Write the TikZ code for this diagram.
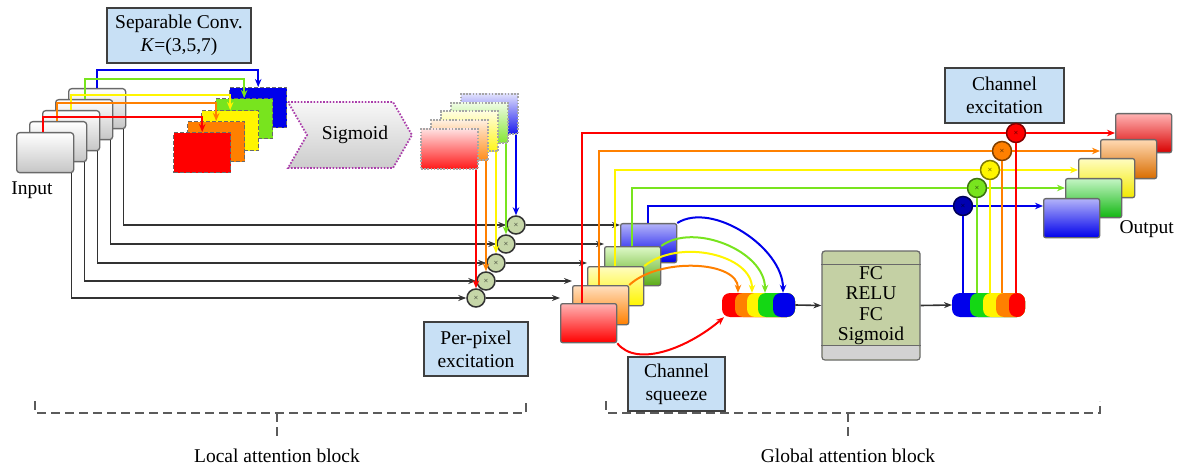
\documentclass[tikz,border=0pt]{standalone}
\usepackage{fontspec}
\setmainfont{Liberation Serif}
\usetikzlibrary{arrows.meta,calc}
\definecolor{cR}{RGB}{255,0,0}
\definecolor{cO}{RGB}{255,128,0}
\definecolor{cY}{RGB}{255,245,0}
\definecolor{cG}{RGB}{120,228,30}
\definecolor{cG2}{RGB}{20,215,20}
\definecolor{cB}{RGB}{0,0,235}
\definecolor{lblue}{RGB}{200,224,245}
\definecolor{mulg}{RGB}{198,214,168}
\definecolor{fcg}{RGB}{196,208,164}
\definecolor{edge}{RGB}{105,105,105}
\definecolor{blk}{RGB}{50,50,50}
\definecolor{purp}{RGB}{170,60,170}
\begin{document}
\begin{tikzpicture}[x=1pt,y=-1pt,
  lbl/.style={font=\fontsize{19.5}{23}\selectfont},
  txtbox/.style={lbl,draw=edge!60!black,line width=1.2pt,fill=lblue,align=center,inner sep=0pt},
  sheet/.style={minimum width=57pt,minimum height=40pt,inner sep=0pt,anchor=north west},
  inbox/.style={sheet,rounded corners=3pt,draw=edge,line width=1.3pt,top color=white,bottom color=gray!45},
  convbox/.style={sheet,draw=edge,line width=1.4pt,dash pattern=on 4pt off 2pt,fill=#1},
  ppbox/.style={sheet,draw=gray!70,line width=1.8pt,dash pattern=on 1.6pt off 1.6pt,top color=#1!12,bottom color=#1!90},
  midbox/.style 2 args={sheet,minimum width=56pt,minimum height=39pt,rounded corners=2pt,draw=edge,line width=1.3pt,top color=#1,bottom color=#2},
  mul/.style={circle,minimum size=18pt,inner sep=0pt,draw=blk,line width=1.5pt,fill=mulg,font=\fontsize{6}{6}\selectfont},
  exc/.style={circle,minimum size=19pt,inner sep=0pt,draw=#1!50!black,line width=1.5pt,fill=#1,font=\fontsize{6}{6}\selectfont},
  wire/.style={line width=2pt},
  arr/.style={wire,-{Stealth[length=8pt,width=6.5pt]}},
  barr/.style={line width=1.6pt,draw=blk,-{Stealth[length=8pt,width=6pt]}},
  brk/.style={draw=blk!80,line width=1.6pt,dash pattern=on 9pt off 5pt},
]
\useasboundingbox (0,0) rectangle (1179,468);

% ---------- input stack ----------
\foreach \i/\x/\y in {4/68/88,3/55/99,2/42/110,1/29/121,0/16/132}
  \node[inbox] (in\i) at (\x,\y) {};
\node[lbl] (inl) at (32,190) {Input};

% ---------- separable conv ----------
\node[txtbox,minimum width=144pt,minimum height=55pt] (sep) at (179,35.5) {Separable Conv.\\\textit{K}=(3,5,7)};
\node[convbox=cB] (cv4) at (229,87) {};
\node[convbox=cG] (cv3) at (215,98) {};
\node[convbox=cY] (cv2) at (201,110) {};
\node[convbox=cO] (cv1) at (187,121) {};
\node[convbox=cR] (cv0) at (173,132) {};

\draw[arr,cB] ([xshift=29pt]in4.north west) -- ++(0,-18) -| (cv4.north);
\draw[arr,cG] ([xshift=30pt]in3.north west) -- ++(0,-20) -| (cv3.north);
\draw[arr,cY] ([xshift=29pt]in2.north west) -- ++(0,-15) -| (cv2.north);
\draw[arr,cO] ([xshift=28pt]in1.north west) -- ++(0,-18) -| (cv1.north);
\draw[arr,cR] ([xshift=27pt]in0.north west) -- ++(0,-15) -| (cv0.north);

% ---------- sigmoid ----------
\draw[purp,line width=1.8pt,dash pattern=on 1.6pt off 1.6pt,top color=gray!6,bottom color=gray!40]
  (288,102) -- (393,102) -- (412,135) -- (393,168) -- (288,168) -- (307,135) -- cycle;
\node[lbl] (sig) at (355,135) {Sigmoid};

% ---------- per-pixel maps ----------
\node[ppbox=cB] (pp4) at (460,93) {};
\node[ppbox=cG] (pp3) at (450,101.75) {};
\node[ppbox=cY] (pp2) at (440,110.5) {};
\node[ppbox=cO] (pp1) at (430,119.25) {};
\node[ppbox=cR] (pp0) at (420,128) {};

% ---------- multiply circles ----------
\node[mul] (c0) at (476,298) {$\times$};
\node[mul] (c1) at (486,281) {$\times$};
\node[mul] (c2) at (496,263) {$\times$};
\node[mul] (c3) at (506,244) {$\times$};
\node[mul] (c4) at (516,225) {$\times$};

\foreach \i in {0,...,4}
  \draw[barr] ([xshift=-3pt]in\i.south east) |- (c\i);
\draw[arr,cR] (c0 |- pp0.south) -- (c0);
\draw[arr,cO] (c1 |- pp1.south) -- (c1);
\draw[arr,cY] (c2 |- pp2.south) -- (c2);
\draw[arr,cG] (c3 |- pp3.south) -- (c3);
\draw[arr,cB] (c4 |- pp4.south) -- (c4);

\node[txtbox,minimum width=104pt,minimum height=54pt] (ppx) at (476,349) {Per-pixel\\excitation};

% ---------- middle stack ----------
\node[midbox={cB!30}{cB}] (m4) at (620,223) {};
\node[midbox={cG!25}{cG!75!black}] (m3) at (604,246) {};
\node[midbox={cY!25}{cY}] (m2) at (587,266) {};
\node[midbox={cO!25}{cO}] (m1) at (572,285) {};
\node[midbox={cR!30}{cR}] (m0) at (560,303) {};

\foreach \i in {0,...,4}
  \draw[barr] (c\i) -- (c\i -| m\i.west);

\node[txtbox,minimum width=97pt,minimum height=54pt] (csq) at (676.5,384) {Channel\\squeeze};

% ---------- squeeze capsule ----------
\node[minimum width=73pt,minimum height=24pt,inner sep=0pt,anchor=west] (capL) at (722,305) {};
\foreach \x/\c in {722/cR,735/cO,747/cY,758/cG2,773/cB}
  \fill[\c,rounded corners=8pt] (\x,293) rectangle (795,317);

\draw[arr,cB] (m4.north east) .. controls +(35,-22) and +(0,-45) .. ([xshift=61pt]capL.north west);
\draw[arr,cG] (m3.north east) .. controls +(32,-24) and +(0,-42) .. ([xshift=43pt]capL.north west);
\draw[arr,cY] (m2.north east) .. controls +(35,-28) and +(0,-38) .. ([xshift=30pt]capL.north west);
\draw[arr,cO] (m1.north east) .. controls +(30,-28) and +(0,-32) .. ([xshift=16pt]capL.north west);
\draw[arr,cR] (m0.south east) .. controls +(20,25) and +(-35,30) .. ([xshift=2pt]capL.south west);

% ---------- FC block ----------
\node[draw=edge,line width=1.3pt,fill=fcg,rounded corners=3pt,minimum width=98pt,minimum height=109pt,inner sep=0pt] (fc) at (871,305.5) {};
\fill[gray!35,rounded corners=2pt] ([shift={(1.5pt,1.5pt)}]fc.south west) rectangle ([shift={(-1.5pt,15pt)}]fc.south east);
\draw[edge,line width=1.2pt] ([yshift=15pt]fc.south west) -- ([yshift=15pt]fc.south east);
\draw[edge,line width=1.2pt] ([yshift=-14pt]fc.north west) -- ([yshift=-14pt]fc.north east);
\node[align=center,font=\fontsize{19.5}{20.5}\selectfont] (fct) at (fc.center) {FC\\RELU\\FC\\Sigmoid};

\node[minimum width=73pt,minimum height=24pt,inner sep=0pt,anchor=west] (capR) at (952,305) {};
\foreach \x/\c in {952/cB,970/cG2,983/cY,996/cO,1009/cR}
  \fill[\c,rounded corners=8pt] (\x,293) rectangle (1025,317);

\draw[barr] (capL.east) -- (fc.west);
\draw[barr] (fc.east) -- (capR.west);

% ---------- output stack ----------
\node[midbox={cR!30}{cR!85!black}] (o0) at (1115,113) {};
\node[midbox={cO!30}{cO!85!black}] (o1) at (1100,139) {};
\node[midbox={cY!25}{cY!95!black}] (o2) at (1078,158) {};
\node[midbox={cG2!25}{cG2!85!black}] (o3) at (1065,178) {};
\node[midbox={cB!30}{cB}] (o4) at (1043,198) {};
\node[lbl,anchor=west] (outl) at (1116,229) {Output};

% ---------- channel excitation ----------
\node[txtbox,minimum width=119pt,minimum height=55pt] (cex) at (1004.5,95.5) {Channel\\excitation};
\node[exc=cR] (e0) at (1016,133) {$\times$};
\node[exc=cO] (e1) at (1002,151) {$\times$};
\node[exc=cY] (e2) at (990,170) {$\times$};
\node[exc=cG] (e3) at (977,188) {$\times$};
\node[exc=cB!75!black] (e4) at (963,206) {$\times$};

\draw[wire,cR] ([xshift=22pt]m0.north west) |- (e0);
\draw[wire,cO] ([xshift=27pt]m1.north west) |- (e1);
\draw[wire,cY] ([xshift=28pt]m2.north west) |- (e2);
\draw[wire,cG] ([xshift=28pt]m3.north west) |- (e3);
\draw[wire,cB] ([xshift=28pt]m4.north west) |- (e4);

\draw[arr,cR] (e0) -- (e0 -| o0.west);
\draw[arr,cO] (e1) -- (e1 -| o1.west);
\draw[arr,cY] (e2) -- (e2 -| o2.west);
\draw[arr,cG] (e3) -- (e3 -| o3.west);
\draw[arr,cB] (e4) -- (e4 -| o4.west);

\draw[wire,cR] (e0 |- capR.north) -- (e0);
\draw[wire,cO] (e1 |- capR.north) -- (e1);
\draw[wire,cY] (e2 |- capR.north) -- (e2);
\draw[wire,cG] (e3 |- capR.north) -- (e3);
\draw[wire,cB] (e4 |- capR.north) -- (e4);

% ---------- block brackets ----------
\draw[brk] (35,401) -- (35,413) -- (526,413) -- (526,401);
\draw[brk] (277,413) -- (277,440);
\node[lbl] (lab1) at (277,456) {Local attention block};
\draw[brk] (606,401) -- (606,413) -- (1100,413) -- (1100,401);
\draw[brk] (848,413) -- (848,440);
\node[lbl] (lab2) at (848,456) {Global attention block};
\end{tikzpicture}
\end{document}
